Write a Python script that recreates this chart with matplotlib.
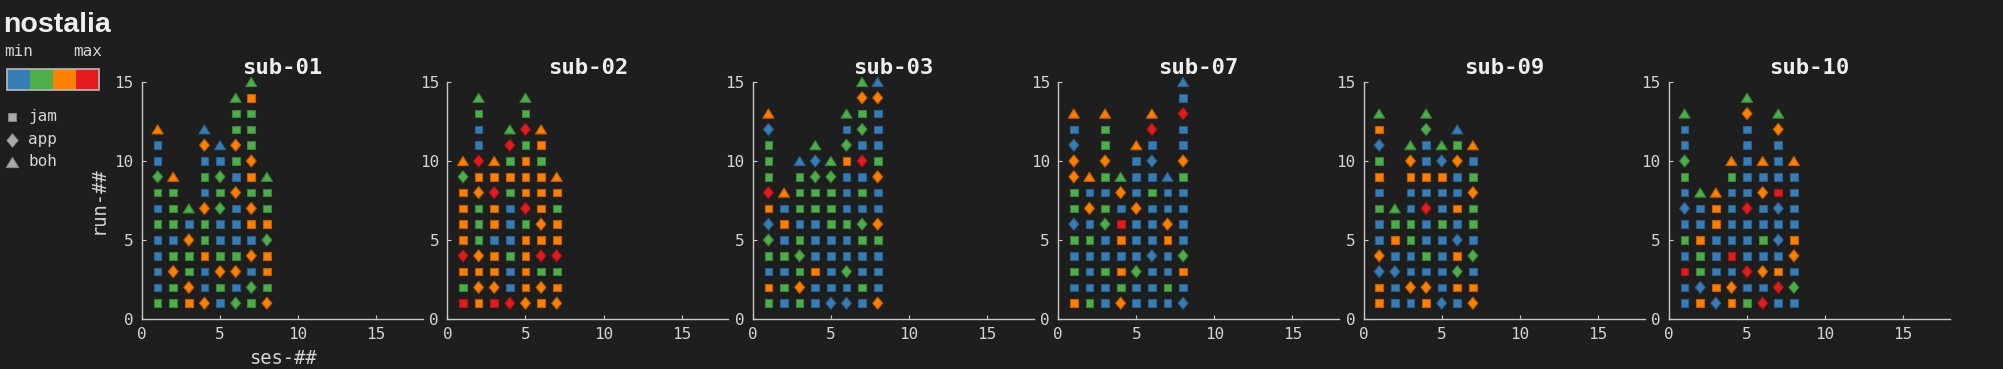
import numpy as np
import matplotlib
matplotlib.use("Agg")
import matplotlib.pyplot as plt
from matplotlib.path import Path
from matplotlib.patches import Rectangle
from matplotlib.colors import to_rgb

# one string per session (ses-01, ses-02, ...), one char per run starting at run-01
# level: 1=min .. 4=max   task: j=jam, a=app, b=boh
subjects = ["sub-01", "sub-02", "sub-03", "sub-07", "sub-09", "sub-10"]

sub01_level = ["211112122113", "223212223", "3322312", "311322312131",
               "12321122211", "21321113123222", "221313323322232", "323323222"]
sub01_task = ["jjjjjjjjajjb", "jjajjjjjb", "jajjajb", "ajjjjjajjjab",
              "jjajjjajajb", "ajajjjjajjajjb", "jajajjajjajjjjb", "ajjjajjjb"]

sub02_level = ["4234333323", "33332223341122", "4333133433", "411211123242",
               "33333243332422", "332433333233", "332433233"]
sub02_task = ["jjjajjjjab", "jajajjjajajjjb", "jajjjjjajb", "ajjjjjjjjjab",
              "ajjjjjajjjjajb", "jajajajjjjjb", "ajjajjjjb"]

sub03_level = ["2312213422213", "12121313", "2322212221", "11311122212",
               "1111122222", "1121121113212", "121122121412232", "311123113211131"]
sub03_task = ["jjjjaajajjjab", "jjjjjjjb", "jajajjjjjb", "jjjjjjjjaab",
              "ajjjjjjjab", "ajajjjjjjjajb", "jjjjjajjjajajab", "ajjjjajjajjjjab"]

sub07_level = ["3121212233113", "211121313", "1121122123223", "323134132",
               "11211131113", "1111111211143", "121133111", "113211112311411"]
sub07_task = ["jjjjjajjaaajb", "jjjjjjajb", "jjjjjajjjajjb", "ajjjjjjab",
              "jjajjjajjjb", "jjjajjjjjajab", "jjjjjajjb", "ajjajjjjjajjajb"]

sub09_level = ["3313112132132", "1111322", "13112211332", "3312114131122",
               "11111211312", "132311311321", "33121223213"]
sub09_task = ["jjaajjjjjjajb", "jjajjjb", "jajjjjjjjab", "jajjjjajjjjab",
              "ajjjjjjjjab", "jjajajjjjajb", "ajjajjjajjb"]

sub10_level = ["1141211122112", "31223112", "13111333", "3314111123",
               "21411141111132", "4131211313", "1431111411132", "1213311113"]
sub10_task = ["jjjjjjajjajjb", "jajjjjjb", "ajjjjjjb", "jajjjjjjjb",
              "jjajjjajjjjjab", "ajajjjjajb", "jajjajajjjjab", "jajajjjjjb"]

all_levels = [sub01_level, sub02_level, sub03_level, sub07_level, sub09_level, sub10_level]
all_tasks = [sub01_task, sub02_task, sub03_task, sub07_task, sub09_task, sub10_task]

level_colors = ["#377eb8", "#4daf4a", "#ff7f00", "#e41a1c"]
task_names = ["jam", "app", "boh"]

BG = "#1e1e1e"
FG = "#d4d4d4"
MONO = "DejaVu Sans Mono"

# marker shapes
diamond = Path([(0, 1), (0.83, 0), (0, -1), (-0.83, 0), (0, 1)],
               [Path.MOVETO, Path.LINETO, Path.LINETO, Path.LINETO, Path.CLOSEPOLY])
triangle = Path([(0, 0.82), (1, -0.82), (-1, -0.82), (0, 0.82)],
                [Path.MOVETO, Path.LINETO, Path.LINETO, Path.CLOSEPOLY])
markers = {"j": ("s", 31), "a": (diamond, 74), "b": (triangle, 64)}


def darker(c, f=0.75):
    r, g, b = to_rgb(c)
    return (r * f, g * f, b * f)


plt.rcParams["font.family"] = MONO
W, H = 2003, 369
fig = plt.figure(figsize=(W / 100, H / 100), dpi=100, facecolor=BG)

ax_left, ax_w, ax_step = 142 / W, 281 / W, 305.4 / W
ax_bot, ax_h = 50 / H, 237 / H

for k, sub in enumerate(subjects):
    ax = fig.add_axes([ax_left + k * ax_step, ax_bot, ax_w, ax_h])
    ax.set_facecolor(BG)
    for t in "jab":
        xs, ys, cs = [], [], []
        for i, (lv, tk) in enumerate(zip(all_levels[k], all_tasks[k])):
            for j, (l, m) in enumerate(zip(lv, tk)):
                if m == t:
                    xs.append(i + 1)
                    ys.append(j + 1)
                    cs.append(level_colors[int(l) - 1])
        mk, sz = markers[t]
        ax.scatter(xs, ys, marker=mk, s=sz, c=cs, edgecolors=[darker(c) for c in cs],
                   linewidths=0.8, clip_on=False, zorder=3)
    ax.set_xlim(0, 18)
    ax.set_ylim(0, 15)
    ax.set_xticks([0, 5, 10, 15])
    ax.set_yticks([0, 5, 10, 15])
    for s in ["top", "right"]:
        ax.spines[s].set_visible(False)
    for s in ["left", "bottom"]:
        ax.spines[s].set_color("#c8c8c8")
        ax.spines[s].set_linewidth(1.0)
    ax.tick_params(direction="in", length=3, color="#c8c8c8", labelcolor=FG,
                   labelsize=11.5, pad=6)
    ax.set_title(sub, color="#eeeeee", fontsize=16, fontweight="bold", pad=6)
    if k == 0:
        ax.set_xlabel("ses-##", color=FG, fontsize=13.5, labelpad=5)
        ax.set_ylabel("run-##", color=FG, fontsize=13.5, labelpad=5)

# header: title, level colour bar, task legend (pixel coords)
lg = fig.add_axes([0, 0, 140 / W, 1])
lg.set_xlim(0, 140)
lg.set_ylim(H, 0)
lg.axis("off")
lg.patch.set_alpha(0)

fig.text(3 / W, 1 - 32 / H, "nostalia", fontsize=20.5, fontweight="bold",
         family="Liberation Sans", color="#eeeeee", va="baseline")

lg.text(4, 52, "min", color=FG, fontsize=11.5, va="center", ha="left")
lg.text(102, 52, "max", color=FG, fontsize=11.5, va="center", ha="right")
seg = 92 / len(level_colors)
for i, c in enumerate(level_colors):
    lg.add_patch(Rectangle((7 + i * seg, 69), seg, 21, facecolor=c, edgecolor="none"))
lg.add_patch(Rectangle((7, 69), 92, 21, facecolor="none", edgecolor="#bbbbbb", lw=1.2))

for i, t in enumerate("jab"):
    y = 117 + i * 22.5
    mk, sz = markers[t]
    lg.scatter([12], [y], marker=mk, s=sz * 1.3, c="#aaaaaa", edgecolors="#888888",
               linewidths=0.6, clip_on=False)
    lg.text(28, y, task_names[i], color=FG, fontsize=11.5, va="center", ha="left")

fig.savefig("out.png", dpi=100, facecolor=BG)
